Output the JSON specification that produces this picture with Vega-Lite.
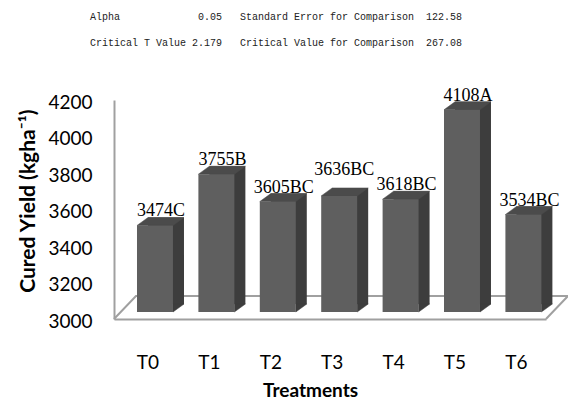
{
  "$schema": "https://vega.github.io/schema/vega-lite/v6.json",
  "width": 432,
  "height": 219,
  "autosize": "none",
  "padding": {"left": 114, "top": 100, "right": 22, "bottom": 81},
  "background": "white",
  "config": {
    "view": {"stroke": null},
    "axis": {"labelOverlap": false}
  },
  "title": {
    "text": [
      "Alpha\u00a0\u00a0\u00a0\u00a0\u00a0\u00a0\u00a0\u00a0\u00a0\u00a0\u00a0\u00a0\u00a00.05\u00a0\u00a0\u00a0Standard Error for Comparison\u00a0\u00a0122.58",
      "Critical T Value 2.179\u00a0\u00a0\u00a0Critical Value for Comparison\u00a0\u00a0267.08"
    ],
    "anchor": "start",
    "frame": "group",
    "dx": -24,
    "baseline": "top",
    "font": "Liberation Mono",
    "fontSize": 10,
    "fontWeight": "normal",
    "color": "#222222",
    "lineHeight": 26,
    "offset": 39
  },
  "data": {
    "values": [
      {"treatment": "T0", "yield": 3474, "label": "3474C"},
      {"treatment": "T1", "yield": 3755, "label": "3755B"},
      {"treatment": "T2", "yield": 3605, "label": "3605BC"},
      {"treatment": "T3", "yield": 3636, "label": "3636BC"},
      {"treatment": "T4", "yield": 3618, "label": "3618BC"},
      {"treatment": "T5", "yield": 4108, "label": "4108A"},
      {"treatment": "T6", "yield": 3534, "label": "3534BC"}
    ]
  },
  "layer": [
    {
      "mark": {"type": "bar", "color": "#5f5f5f", "yOffset": -7, "y2Offset": -7},
      "encoding": {
        "x": {
          "field": "treatment",
          "type": "nominal",
          "scale": {"paddingInner": 0.414, "paddingOuter": 0.2248, "align": 0.833},
          "axis": {
            "title": "Treatments",
            "labelAngle": 0,
            "labelFont": "Lato",
            "labelFontSize": 19,
            "labelColor": "#000000",
            "labelPadding": 34,
            "labelOffset": -7,
            "ticks": false,
            "domainColor": "#a0a0a0",
            "domainWidth": 2,
            "titleFont": "Lato",
            "titleFontSize": 19,
            "titleFontWeight": "bold",
            "titleColor": "#000000",
            "titlePadding": 9,
            "titleX": 196
          }
        },
        "y": {
          "field": "yield",
          "type": "quantitative",
          "scale": {"domain": [3000, 4200], "zero": false, "nice": false},
          "axis": {
            "title": "Cured Yield (kgha\u207b\u00b9)",
            "values": [3000, 3200, 3400, 3600, 3800, 4000, 4200],
            "tickCount": 7,
            "format": "d",
            "labelOverlap": false,
            "grid": false,
            "ticks": false,
            "domainColor": "#a0a0a0",
            "domainWidth": 2,
            "labelFont": "Lato",
            "labelFontSize": 19,
            "labelColor": "#000000",
            "labelPadding": 22,
            "labelOffset": 2,
            "titleFont": "Lato",
            "titleFontSize": 21,
            "titleFontWeight": "bold",
            "titleColor": "#000000",
            "titleAnchor": "end",
            "titleY": 9,
            "titlePadding": 9
          }
        },
        "y2": {"datum": 3000},
        "opacity": {"value": 0}
      }
    },
    {
      "transform": [{"filter": "datum.treatment === 'T0'"}],
      "mark": {"type": "point", "shape": "M-41,0L-19,-23L413,-23L391,0", "size": 4, "filled": false, "stroke": "#a0a0a0", "strokeWidth": 2, "opacity": 1},
      "encoding": {
        "x": {"field": "treatment", "type": "nominal"},
        "y": {"datum": 3000, "type": "quantitative"}
      }
    },
    {
      "mark": {"type": "bar", "color": "#3d3d3d", "xOffset": 11, "x2Offset": 11, "yOffset": -15, "y2Offset": -15},
      "encoding": {
        "x": {"field": "treatment", "type": "nominal"},
        "y": {"field": "yield", "type": "quantitative"},
        "y2": {"datum": 3000}
      }
    },
    {
      "mark": {"type": "point", "shape": "M18,0L29,-8L18,-8Z", "size": 4, "filled": true, "fill": "#3d3d3d", "stroke": "#3d3d3d", "strokeWidth": 0.5, "opacity": 1, "yOffset": -7},
      "encoding": {
        "x": {"field": "treatment", "type": "nominal"},
        "y": {"datum": 3000, "type": "quantitative"}
      }
    },
    {
      "mark": {"type": "point", "shape": "M-18,0L-7,-8L29,-8L18,0Z", "size": 4, "filled": true, "fill": "#4b4b4b", "stroke": "#4b4b4b", "strokeWidth": 0.5, "opacity": 1, "yOffset": -7},
      "encoding": {
        "x": {"field": "treatment", "type": "nominal"},
        "y": {"field": "yield", "type": "quantitative"}
      }
    },
    {
      "mark": {"type": "bar", "color": "#5f5f5f", "yOffset": -7, "y2Offset": -7},
      "encoding": {
        "x": {"field": "treatment", "type": "nominal"},
        "y": {"field": "yield", "type": "quantitative"},
        "y2": {"datum": 3000}
      }
    },
    {
      "transform": [{"filter": "datum.treatment !== 'T3'"}],
      "mark": {"type": "text", "font": "Liberation Serif", "fontSize": 18, "color": "#000000", "baseline": "alphabetic", "dx": 6, "dy": -9, "yOffset": -7},
      "encoding": {
        "x": {"field": "treatment", "type": "nominal"},
        "y": {"field": "yield", "type": "quantitative"},
        "text": {"field": "label"}
      }
    },
    {
      "transform": [{"filter": "datum.treatment === 'T3'"}],
      "mark": {"type": "text", "font": "Liberation Serif", "fontSize": 18, "color": "#000000", "baseline": "alphabetic", "dx": 5, "dy": -21, "yOffset": -7},
      "encoding": {
        "x": {"field": "treatment", "type": "nominal"},
        "y": {"field": "yield", "type": "quantitative"},
        "text": {"field": "label"}
      }
    }
  ]
}
